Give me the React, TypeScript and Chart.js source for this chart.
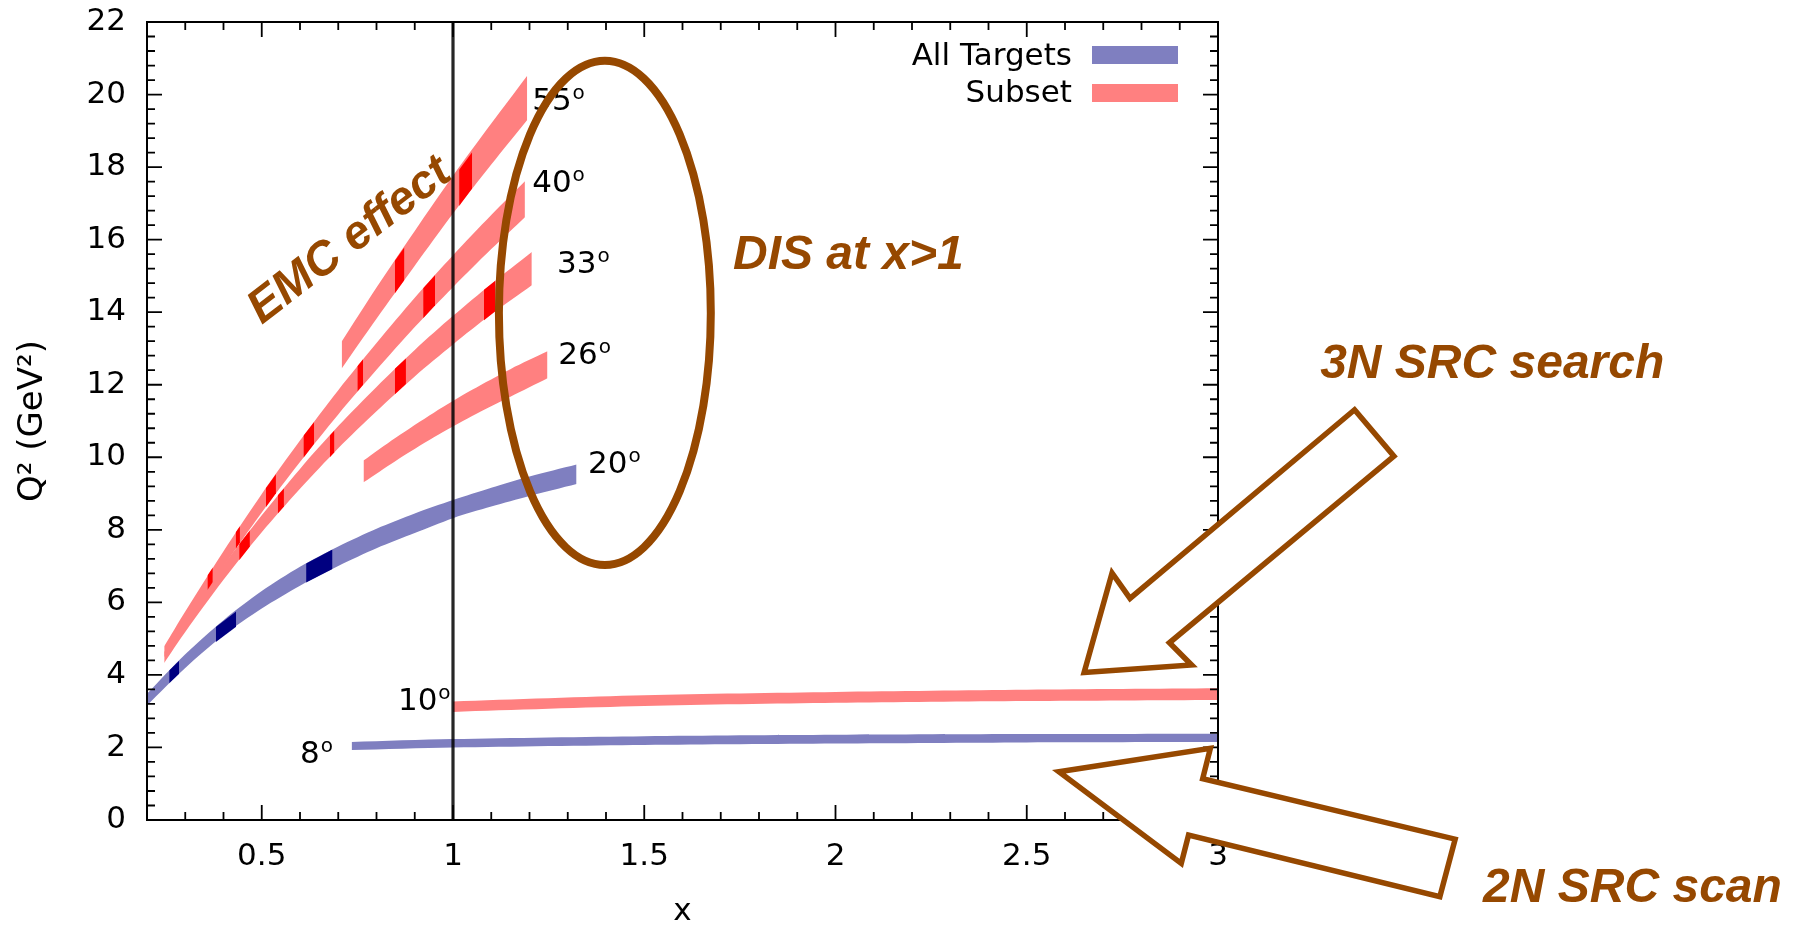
import { useEffect, useRef } from 'react';
import { Chart, registerables } from 'chart.js';

Chart.register(...registerables);

const W = 1793;
const H = 931;

// Axis ticks
const X_TICKS = [0.5, 1, 1.5, 2, 2.5, 3];
const Y_TICKS = [0, 2, 4, 6, 8, 10, 12, 14, 16, 18, 20, 22];

// Q² bands (lower / upper edge) for each spectrometer angle
const X_55 = [0.709, 0.8, 0.9, 1.0, 1.1, 1.194];
const LO_55 = [12.45, 13.82, 15.28, 16.72, 18.07, 19.3];
const HI_55 = [13.19, 14.68, 16.24, 17.76, 19.2, 20.52];

const X_40 = [0.245, 0.3, 0.4, 0.5, 0.6, 0.7, 0.8, 0.9, 1.0, 1.1, 1.188];
const LO_40 = [4.49, 5.42, 6.99, 8.48, 9.87, 11.18, 12.41, 13.59, 14.69, 15.74, 16.62];
const HI_40 = [4.79, 5.75, 7.41, 8.99, 10.46, 11.85, 13.15, 14.4, 15.57, 16.68, 17.61];

const X_33 = [0.245, 0.3, 0.4, 0.5, 0.6, 0.7, 0.8, 0.9, 1.0, 1.1, 1.206];
const LO_33 = [4.33, 5.18, 6.62, 7.93, 9.13, 10.25, 11.27, 12.23, 13.11, 13.94, 14.74];
const HI_33 = [4.63, 5.5, 7.02, 8.4, 9.68, 10.86, 11.94, 12.96, 13.9, 14.78, 15.66];

const X_26 = [0.766, 0.85, 0.95, 1.05, 1.15, 1.247];
const LO_26 = [9.31, 9.9, 10.55, 11.14, 11.67, 12.18];
const HI_26 = [9.91, 10.54, 11.23, 11.86, 12.43, 12.92];

const X_20 = [0.2, 0.3, 0.4, 0.5, 0.6, 0.7, 0.8, 0.9, 1.0, 1.1, 1.2, 1.323];
const LO_20 = [3.16, 4.19, 5.09, 5.83, 6.46, 7.0, 7.49, 7.91, 8.32, 8.64, 8.93, 9.26];
const HI_20 = [3.48, 4.57, 5.51, 6.31, 6.98, 7.54, 8.03, 8.45, 8.82, 9.16, 9.47, 9.8];

const X_10 = [1.0, 1.5, 2.0, 2.5, 3.0];
const LO_10 = [2.98, 3.14, 3.23, 3.28, 3.31];
const HI_10 = [3.27, 3.44, 3.53, 3.59, 3.63];

const X_8 = [0.735, 1.0, 1.5, 2.0, 2.5, 3.0];
const LO_8 = [1.93, 2.0, 2.07, 2.11, 2.14, 2.15];
const HI_8 = [2.15, 2.23, 2.31, 2.35, 2.37, 2.38];

// Subset bins: x range of each bin with its lower / upper edge at both ends
const SUB_55_X = [[0.848, 0.873], [1.016, 1.05]];
const SUB_55_LO = [[14.52, 14.89], [16.93, 17.41]];
const SUB_55_HI = [[15.42, 15.79], [17.93, 18.41]];

const SUB_40_X = [[0.358, 0.372], [0.432, 0.443], [0.511, 0.537], [0.609, 0.637], [0.75, 0.765], [0.922, 0.953]];
const SUB_40_LO = [[6.34, 6.56], [7.48, 7.65], [8.63, 9.01], [9.99, 10.37], [11.81, 12.0], [13.83, 14.19]];
const SUB_40_HI = [[6.74, 6.96], [7.93, 8.1], [9.15, 9.53], [10.59, 10.97], [12.51, 12.7], [14.66, 15.02]];

const SUB_33_X = [[0.441, 0.469], [0.542, 0.558], [0.678, 0.69], [0.848, 0.877], [1.081, 1.11]];
const SUB_33_LO = [[7.16, 7.54], [8.45, 8.64], [10.0, 10.14], [11.74, 12.02], [13.78, 14.02]];
const SUB_33_HI = [[7.6, 7.98], [8.95, 9.14], [10.6, 10.74], [12.44, 12.72], [14.62, 14.86]];

const SUB_20_X = [[0.258, 0.284], [0.38, 0.433], [0.616, 0.685]];
const SUB_20_LO = [[3.77, 4.03], [4.91, 5.33], [6.55, 6.92]];
const SUB_20_HI = [[4.12, 4.39], [5.32, 5.75], [7.07, 7.46]];

// Angle labels (degrees) and their anchor in data units
const ANGLE_LABELS = ['55', '40', '33', '26', '20', '10', '8'];
const ANGLE_LABEL_X = [1.207, 1.207, 1.272, 1.275, 1.353, 0.856, 0.6];
const ANGLE_LABEL_Y = [19.58, 17.32, 15.07, 12.57, 9.56, 3.03, 1.56];

// Colours and fonts
const BLUE = '#7f7fc0';
const RED = '#ff8080';
const NAVY = '#000080';
const DARK_RED = '#ff0000';
const BROWN = '#964800';
const FONT = '"DejaVu Sans", sans-serif';
const NOTE_FONT = '"Liberation Sans", Arial, sans-serif';

type Pt = { x: number; y: number };
const pts = (xs: number[], ys: number[]): Pt[] => xs.map((x, i) => ({ x, y: ys[i] }));

function edgePair(xs: number[], lo: number[], hi: number[], color: string, order: number, tension: number) {
  const common = {
    borderColor: 'transparent',
    borderWidth: 0,
    pointRadius: 0,
    pointHoverRadius: 0,
    tension,
    order,
  };
  return [
    { ...common, data: pts(xs, lo), fill: false },
    { ...common, data: pts(xs, hi), fill: '-1', backgroundColor: color },
  ];
}

function buildDatasets() {
  const sets: any[] = [];
  const bands: [number[], number[], number[], string][] = [
    [X_55, LO_55, HI_55, RED],
    [X_40, LO_40, HI_40, RED],
    [X_33, LO_33, HI_33, RED],
    [X_26, LO_26, HI_26, RED],
    [X_20, LO_20, HI_20, BLUE],
    [X_10, LO_10, HI_10, RED],
    [X_8, LO_8, HI_8, BLUE],
  ];
  bands.forEach(([xs, lo, hi, c]) => sets.push(...edgePair(xs, lo, hi, c, 1, 0.3)));
  const bins: [number[][], number[][], number[][], string][] = [
    [SUB_55_X, SUB_55_LO, SUB_55_HI, DARK_RED],
    [SUB_40_X, SUB_40_LO, SUB_40_HI, DARK_RED],
    [SUB_33_X, SUB_33_LO, SUB_33_HI, DARK_RED],
    [SUB_20_X, SUB_20_LO, SUB_20_HI, NAVY],
  ];
  bins.forEach(([xs, lo, hi, c]) =>
    xs.forEach((xr, i) => sets.push(...edgePair(xr, lo[i], hi[i], c, 0, 0)))
  );
  return sets;
}

// Hollow block arrows, in data units
const ARROW_3N_X = [3.357, 3.46, 2.873, 2.931, 2.65, 2.723, 2.77];
const ARROW_3N_Y = [11.31, 10.03, 4.885, 4.274, 4.064, 6.81, 6.11];
const ARROW_2N_X = [2.584, 2.98, 2.96, 3.62, 3.58, 2.923, 2.904];
const ARROW_2N_Y = [1.329, 1.974, 1.139, -0.529, -2.117, -0.416, -1.197];

const overlay = {
  id: 'overlay',
  afterDatasetsDraw(chart: any) {
    const { ctx, chartArea: a, scales } = chart;
    const xs = scales.x;
    const ys = scales.y;
    ctx.save();
    // x = 1 reference line
    const p1 = xs.getPixelForValue(1);
    ctx.strokeStyle = 'rgba(0,0,0,0.85)';
    ctx.lineWidth = 3.2;
    ctx.beginPath();
    ctx.moveTo(p1, a.top);
    ctx.lineTo(p1, a.bottom);
    ctx.stroke();

    // frame
    ctx.strokeStyle = '#000';
    ctx.lineWidth = 2;
    ctx.strokeRect(a.left, a.top, a.right - a.left, a.bottom - a.top);

    // inward ticks on all four sides
    const MAJ = 15;
    const MIN = 8;
    ctx.lineWidth = 1.8;
    ctx.beginPath();
    for (let i = 3; i < 30; i++) {
      const len = i % 5 === 0 ? MAJ : MIN;
      const px = xs.getPixelForValue(i / 10);
      ctx.moveTo(px, a.bottom);
      ctx.lineTo(px, a.bottom - len);
      ctx.moveTo(px, a.top);
      ctx.lineTo(px, a.top + len);
    }
    for (let i = 1; i < 55; i++) {
      const len = i % 5 === 0 ? MAJ : MIN;
      const py = ys.getPixelForValue(i * 0.4);
      ctx.moveTo(a.left, py);
      ctx.lineTo(a.left + len, py);
      ctx.moveTo(a.right, py);
      ctx.lineTo(a.right - len, py);
    }
    ctx.stroke();
    ctx.restore();
  },
  afterDraw(chart: any) {
    const { ctx, chartArea: a, scales } = chart;
    const xs = scales.x;
    const ys = scales.y;
    const X = (v: number) => xs.getPixelForValue(v);
    const Y = (v: number) => ys.getPixelForValue(v);
    ctx.save();

    // angle labels with raised "o"
    ctx.fillStyle = '#000';
    ctx.textAlign = 'left';
    ctx.textBaseline = 'alphabetic';
    ANGLE_LABELS.forEach((t, i) => {
      const px = X(ANGLE_LABEL_X[i]);
      const py = Y(ANGLE_LABEL_Y[i]);
      ctx.font = `31px ${FONT}`;
      ctx.fillText(t, px, py);
      const w = ctx.measureText(t).width;
      ctx.font = `20px ${FONT}`;
      ctx.fillText('o', px + w + 1, py - 11);
    });

    // legend
    ctx.font = `31px ${FONT}`;
    ctx.textAlign = 'right';
    ctx.fillText('All Targets', a.right - 146, a.top + 43);
    ctx.fillText('Subset', a.right - 146, a.top + 80);
    ctx.fillStyle = BLUE;
    ctx.fillRect(a.right - 126, a.top + 24, 86, 18);
    ctx.fillStyle = RED;
    ctx.fillRect(a.right - 126, a.top + 62, 86, 18);

    // DIS ellipse
    ctx.strokeStyle = BROWN;
    ctx.lineWidth = 8;
    const cx = X(1.397);
    const cy = Y(13.98);
    const rx = X(1.397 + 0.277) - cx;
    const ry = cy - Y(13.98 + 6.95);
    ctx.beginPath();
    ctx.ellipse(cx, cy, rx, ry, 0, 0, Math.PI * 2);
    ctx.stroke();

    // notes
    ctx.fillStyle = BROWN;
    ctx.textAlign = 'left';
    ctx.font = `italic bold 48px ${NOTE_FONT}`;
    ctx.fillText('DIS at x>1', X(1.732), Y(15.19));
    ctx.fillText('3N SRC search', X(3.267), Y(12.19));
    ctx.fillText('2N SRC scan', X(3.693), Y(-2.26));
    ctx.save();
    ctx.translate(X(0.5), Y(13.65));
    ctx.rotate((-37.5 * Math.PI) / 180);
    ctx.font = `italic bold 47px ${NOTE_FONT}`;
    ctx.fillText('EMC effect', 0, 0);
    ctx.restore();

    // block arrows
    const arrow = (ax: number[], ay: number[]) => {
      ctx.beginPath();
      ax.forEach((v, i) => (i === 0 ? ctx.moveTo(X(v), Y(ay[i])) : ctx.lineTo(X(v), Y(ay[i]))));
      ctx.closePath();
      ctx.fillStyle = '#fff';
      ctx.fill();
      ctx.lineWidth = 5.5;
      ctx.lineJoin = 'miter';
      ctx.strokeStyle = BROWN;
      ctx.stroke();
    };
    arrow(ARROW_3N_X, ARROW_3N_Y);
    arrow(ARROW_2N_X, ARROW_2N_Y);

    ctx.restore();
  },
};

export default function App() {
  const ref = useRef<HTMLCanvasElement>(null);

  useEffect(() => {
    const canvas = ref.current;
    if (!canvas) return;
    const tickFont = { family: FONT, size: 31 };
    const chart = new Chart(canvas, {
      type: 'line',
      data: { datasets: buildDatasets() },
      options: {
        responsive: false,
        animation: false,
        events: [],
        layout: { padding: { left: 0, top: 22, right: W - 1218, bottom: 0 } },
        plugins: {
          legend: { display: false },
          tooltip: { enabled: false },
          filler: { propagate: false },
        },
        scales: {
          x: {
            type: 'linear',
            min: 0.2,
            max: 3,
            grid: { display: false, drawTicks: false },
            border: { display: false },
            afterBuildTicks: (s: any) => {
              s.ticks = X_TICKS.map((v) => ({ value: v }));
            },
            afterFit: (s: any) => {
              s.height = H - 820;
              s.paddingLeft = 0;
              s.paddingRight = 0;
            },
            ticks: {
              color: '#000',
              font: tickFont,
              padding: 18,
              autoSkip: false,
              maxRotation: 0,
              minRotation: 0,
              callback: (v: any) => String(v),
            },
            title: {
              display: true,
              text: 'x',
              color: '#000',
              font: { family: FONT, size: 31 },
              padding: 0,
            },
          },
          y: {
            type: 'linear',
            min: 0,
            max: 22,
            grid: { display: false, drawTicks: false },
            border: { display: false },
            afterBuildTicks: (s: any) => {
              s.ticks = Y_TICKS.map((v) => ({ value: v }));
            },
            afterFit: (s: any) => {
              s.width = 147;
              s.paddingTop = 0;
              s.paddingBottom = 0;
            },
            ticks: {
              color: '#000',
              font: tickFont,
              padding: 21,
              autoSkip: false,
              callback: (v: any) => String(v),
            },
            title: {
              display: true,
              text: 'Q² (GeV²)',
              color: '#000',
              font: { family: FONT, size: 34 },
              padding: { top: 13, bottom: 0 },
            },
          },
        },
      } as any,
      plugins: [overlay],
    });
    return () => chart.destroy();
  }, []);

  return (
    <div style={{ position: 'absolute', left: 0, top: 0, width: W, height: H, background: '#fff' }}>
      <canvas ref={ref} width={W} height={H} style={{ display: 'block', width: W, height: H }} />
    </div>
  );
}
